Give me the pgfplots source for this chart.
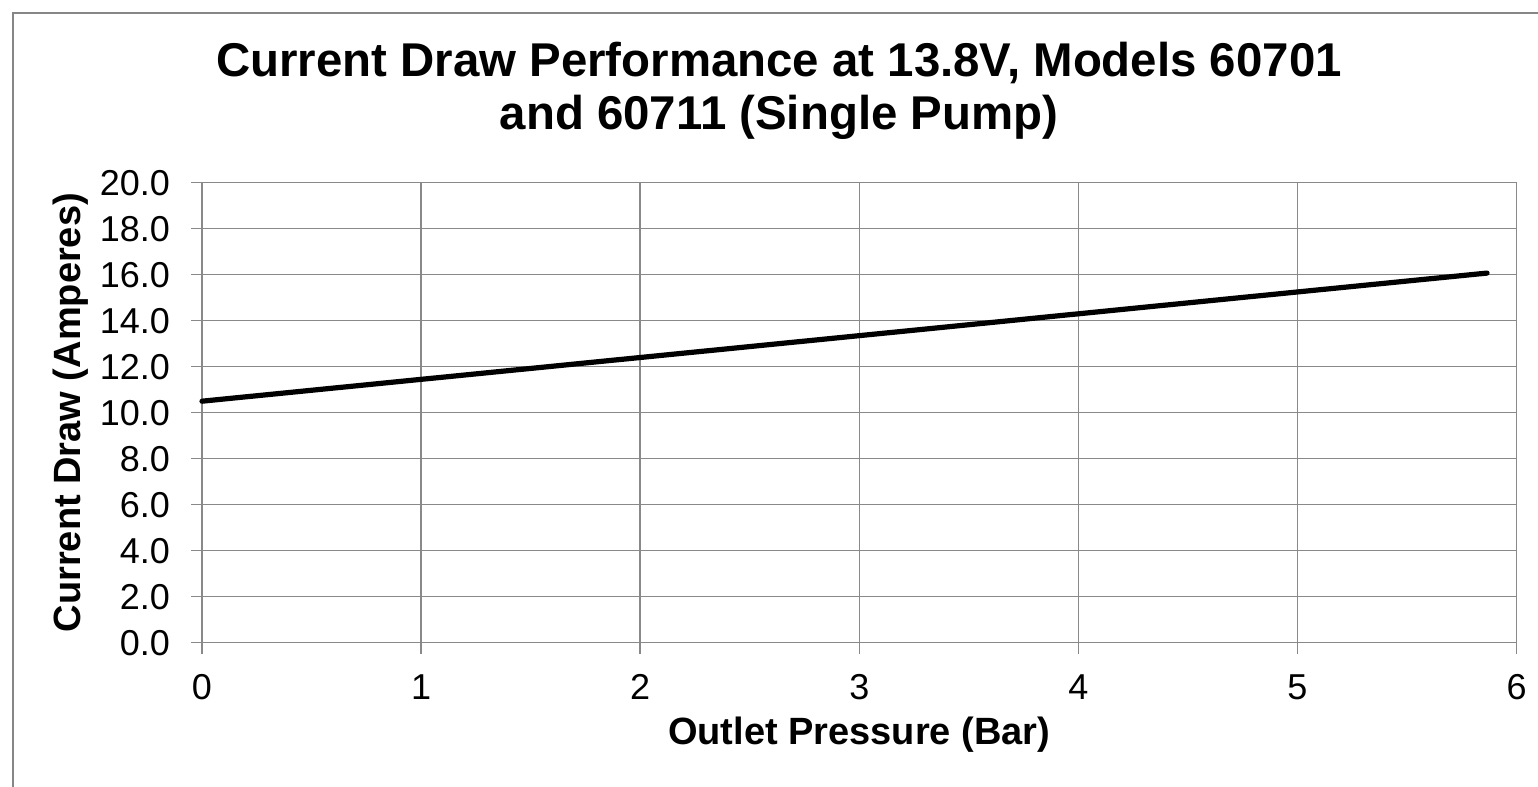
\documentclass[border=0pt]{standalone}
\usepackage{pgfplots}
\pgfplotsset{compat=1.18}
\usepackage{fontspec}
\setmainfont{Liberation Sans}
\definecolor{gridgray}{RGB}{137,137,137}
\definecolor{framegray}{RGB}{134,134,134}
\begin{document}
\begin{tikzpicture}
\path[use as bounding box] (-101pt,-72.15pt) rectangle (668pt,321.35pt);
\begin{axis}[
  scale only axis,
  width=657.3pt, height=230pt,
  xmin=0, xmax=6, ymin=0, ymax=20,
  xtick={0,1,2,3,4,5,6},
  ytick={0,2,4,6,8,10,12,14,16,18,20},
  yticklabel={\pgfmathprintnumber[fixed,fixed zerofill,precision=1]{\tick}},
  /pgf/number format/assume math mode=true,
  grid=major,
  major grid style={color=gridgray, line width=0.75pt},
  axis line style={color=gridgray, line width=0.75pt},
  tick style={color=gridgray, line width=0.75pt},
  tick align=outside,
  major tick length=5.5pt,
  tick pos=left,
  ticklabel style={font=\fontsize{18}{21}\selectfont, text=black},
  xticklabel style={yshift=-7pt},
  yticklabel style={xshift=-7pt},
  xlabel={Outlet Pressure (Bar)},
  ylabel={Current Draw (Amperes)},
  xlabel style={at={(axis description cs:0.5,-0.2)}, anchor=center, font=\bfseries\fontsize{19}{22}\selectfont},
  ylabel style={at={(axis description cs:-0.0996,0.5)}, anchor=center, rotate=0, font=\bfseries\fontsize{19}{22}\selectfont},
  clip=false,
]
\addplot[black, line width=2.6pt, line cap=round, line join=round] coordinates {
  (0,10.5) (1,11.45) (2,12.4) (3,13.35) (4,14.3) (5,15.25) (5.865,16.07)
};
\node[align=center, font=\bfseries\fontsize{23.7}{26.5}\selectfont, inner sep=0pt]
  at (axis description cs:0.4389,1.199)
  {Current Draw Performance at 13.8V, Models 60701\\and 60711 (Single Pump)};
\end{axis}
\draw[framegray, line width=1pt] (-94.5pt,-80pt) -- (-94.5pt,314.8pt) -- (680pt,314.8pt);
\end{tikzpicture}
\end{document}
